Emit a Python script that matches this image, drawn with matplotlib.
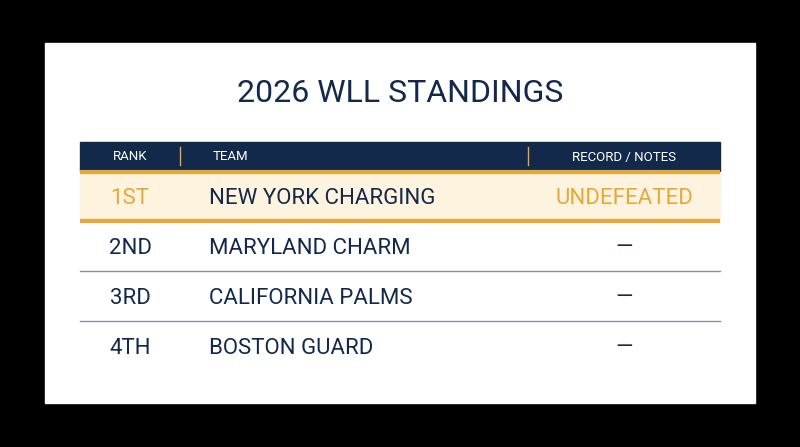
import matplotlib.pyplot as plt
from matplotlib.patches import Rectangle

plt.rcParams['font.family'] = ['Roboto', 'DejaVu Sans']

title = "2026 WLL STANDINGS"
headers = ["RANK", "TEAM", "RECORD / NOTES"]
ranks = ["1ST", "2ND", "3RD", "4TH"]
teams = ["NEW YORK CHARGING", "MARYLAND CHARM", "CALIFORNIA PALMS", "BOSTON GUARD"]
notes = ["UNDEFEATED", "—", "—", "—"]

NAVY = "#13294b"
GOLD = "#e8a838"
CREAM = "#fdf3de"

fig = plt.figure(figsize=(8, 4.47), dpi=100, facecolor="black")
ax = fig.add_axes([0, 0, 1, 1])
ax.set_xlim(0, 800)
ax.set_ylim(447, 0)
ax.axis("off")

# card
ax.add_patch(Rectangle((45, 43), 710, 360, color="white"))
ax.text(400, 93, title, ha="center", va="center", fontsize=23, color=NAVY)

# header bar
ax.add_patch(Rectangle((80, 142), 640, 29, color=NAVY))
ax.plot([180, 180], [147, 165], color=GOLD, lw=1)
ax.plot([528, 528], [147, 165], color=GOLD, lw=1)
ax.text(130, 157, headers[0], ha="center", va="center", fontsize=9.5, color="white")
ax.text(213, 157, headers[1], ha="left", va="center", fontsize=9.5, color="white")
ax.text(624, 157, headers[2], ha="center", va="center", fontsize=9.5, color="white")

row_top = 172
row_h = 50
for i, (r, t, n) in enumerate(zip(ranks, teams, notes)):
    y0 = row_top + i * row_h
    yc = y0 + row_h / 2 + 1
    if i == 0:
        ax.add_patch(Rectangle((80, y0), 640, row_h - 1, color=CREAM))
        ax.plot([80, 720], [y0, y0], color=GOLD, lw=3, solid_capstyle="butt")
        ax.plot([80, 720], [y0 + row_h - 1, y0 + row_h - 1], color=GOLD, lw=3, solid_capstyle="butt")
        rc, nc = GOLD, GOLD
    else:
        if i < len(ranks) - 1:
            ax.plot([80, 720], [y0 + row_h - 1, y0 + row_h - 1], color="#8a8f99", lw=1)
        rc, nc = NAVY, NAVY
    ax.text(130, yc, r, ha="center", va="center", fontsize=16, color=rc)
    ax.text(209, yc, t, ha="left", va="center", fontsize=16, color=NAVY)
    ax.text(624, yc, n, ha="center", va="center", fontsize=16, color=nc)

fig.savefig("out.png", dpi=100, facecolor="black")
